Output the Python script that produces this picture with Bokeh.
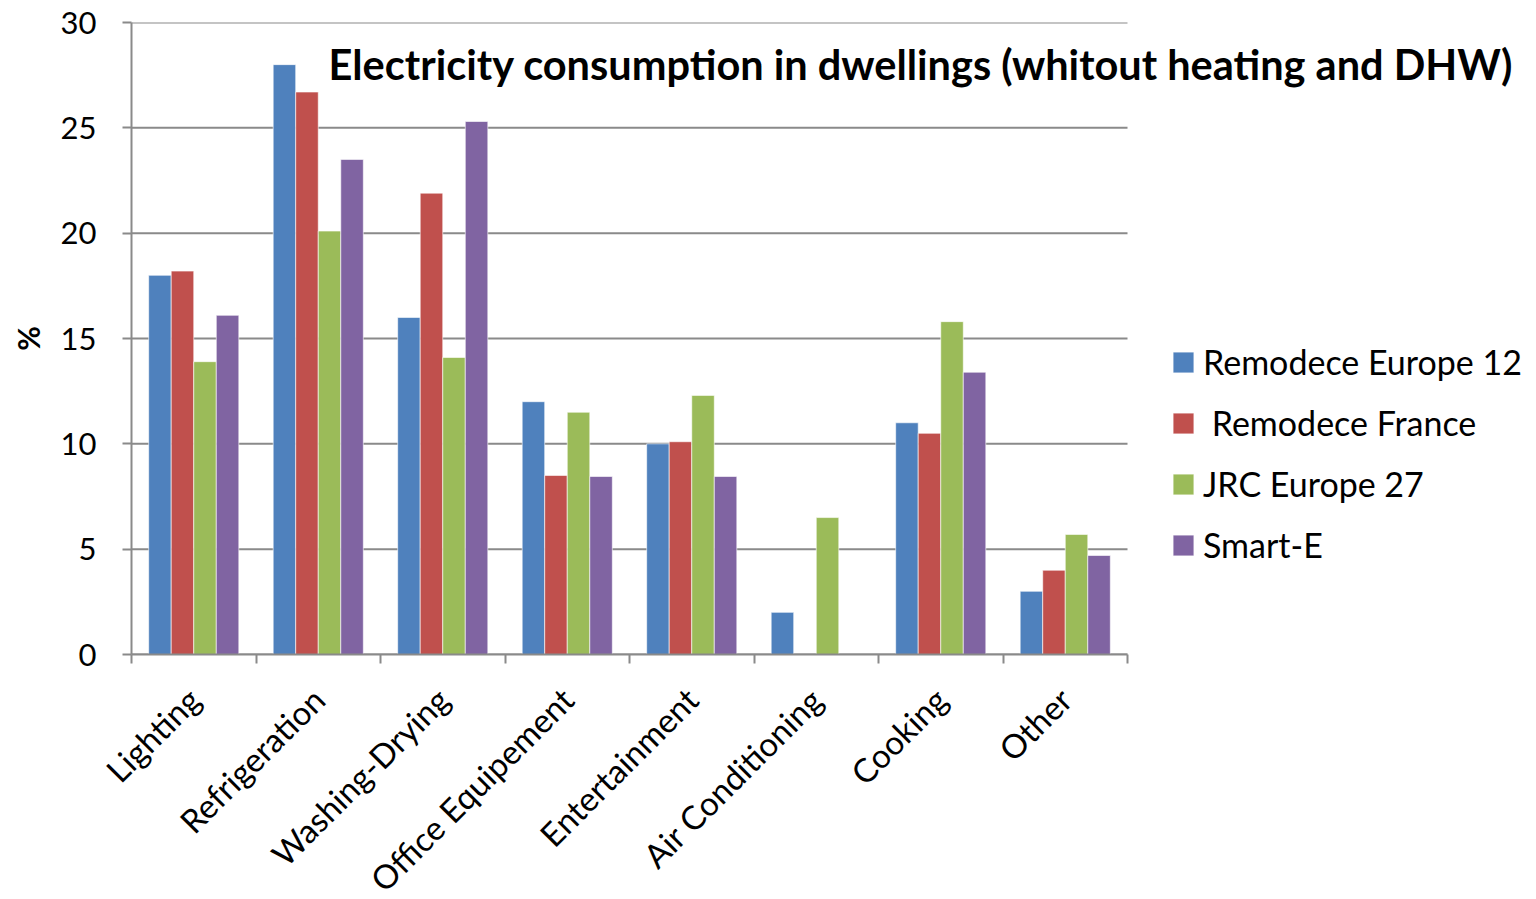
import math
from bokeh.plotting import figure
from bokeh.models import (ColumnDataSource, Range1d, LinearAxis, FixedTicker,
                          Legend, LegendItem, Label)
from bokeh.embed import file_html
from bokeh.resources import INLINE

# End uses and their share of household electricity (%)
categories = ["Lighting", "Refrigeration", "Washing-Drying", "Office Equipement",
              "Entertainment", "Air Conditioning", "Cooking", "Other"]
nan = float("nan")
remodece_europe_12 = [18.0, 28.0, 16.0, 12.0, 10.0, 2.0, 11.0, 3.0]
remodece_france = [18.2, 26.7, 21.9, 8.5, 10.1, nan, 10.5, 4.0]
jrc_europe_27 = [13.9, 20.1, 14.1, 11.5, 12.3, 6.5, 15.8, 5.7]
smart_e = [16.1, 23.5, 25.3, 8.45, 8.45, nan, 13.4, 4.7]

series_names = ["Remodece Europe 12", " Remodece France", "JRC Europe 27", "Smart-E"]
series_values = [remodece_europe_12, remodece_france, jrc_europe_27, smart_e]
series_colors = ["#4F81BD", "#C0504D", "#9BBB59", "#8064A2"]
y_ticks = [0, 5, 10, 15, 20, 25, 30]

FONT = "Lato"
GRID = "#8a8a8a"

W, H = 1536, 899
LEFT, TOP, BOTTOM = 131, 22, 245
CAT_PX = 124.5                       # width of one category slot in pixels
n = len(categories)
FRAME_W, FRAME_H = W - LEFT, H - TOP - BOTTOM
# the frame runs to the right edge so the title and legend can sit there;
# bars, grid and axis only cover the category slots
x_end = FRAME_W / CAT_PX

p = figure(frame_width=FRAME_W, frame_height=FRAME_H,
           output_backend="svg", toolbar_location=None,
           x_range=Range1d(0, x_end), y_range=Range1d(0, 30),
           x_axis_type=None, y_axis_type=None,
           min_border_left=LEFT, min_border_right=0,
           min_border_top=TOP, min_border_bottom=BOTTOM)
p.outline_line_color = None
p.background_fill_color = "white"
p.border_fill_color = "white"
p.xgrid.visible = False
p.ygrid.visible = False

# horizontal gridlines across the category slots only
p.segment(x0=[0] * len(y_ticks), x1=[n] * len(y_ticks), y0=y_ticks, y1=y_ticks,
          line_color=GRID, line_width=2, level="underlay")

# Category axis: ticks on the category boundaries, labels at the centres
centres = [i + 0.5 for i in range(n)]
xaxis = LinearAxis(ticker=FixedTicker(ticks=centres, minor_ticks=list(range(n + 1))),
                   bounds=(0, n))
xaxis.major_label_overrides = {c: name for c, name in zip(centres, categories)}
xaxis.major_label_orientation = math.pi / 4
xaxis.major_tick_line_color = None
xaxis.minor_tick_line_color = GRID
xaxis.minor_tick_line_width = 2
xaxis.minor_tick_out = 9
xaxis.minor_tick_in = 0
xaxis.axis_line_color = GRID
xaxis.axis_line_width = 2
xaxis.major_label_text_font = FONT
xaxis.major_label_text_font_size = "33px"
xaxis.major_label_text_color = "black"
xaxis.major_label_standoff = 30
p.add_layout(xaxis, "below")

yaxis = LinearAxis(ticker=FixedTicker(ticks=y_ticks, minor_ticks=[]))
yaxis.axis_label = "%"
yaxis.axis_label_text_font = FONT
yaxis.axis_label_text_font_style = "bold"
yaxis.axis_label_text_font_size = "30px"
yaxis.axis_label_text_color = "black"
yaxis.axis_label_standoff = 12
yaxis.major_tick_line_color = GRID
yaxis.major_tick_line_width = 2
yaxis.major_tick_out = 9
yaxis.major_tick_in = 0
yaxis.axis_line_color = GRID
yaxis.axis_line_width = 2
yaxis.major_label_text_font = FONT
yaxis.major_label_text_font_size = "31px"
yaxis.major_label_text_color = "black"
yaxis.major_label_standoff = 26
p.add_layout(yaxis, "left")

# Clustered bars: four series side by side within each category
bar_w = 0.181
items = []
for j, (name, vals, col) in enumerate(zip(series_names, series_values, series_colors)):
    offset = (j - 1.5) * bar_w
    src = ColumnDataSource(dict(x=[i + 0.5 + offset for i in range(n)],
                                top=vals, cat=categories))
    r = p.vbar(x="x", top="top", bottom=0, width=bar_w, source=src,
               fill_color=col, line_color="white", line_alpha=0.6, line_width=1)
    items.append(LegendItem(label=name, renderers=[r]))

legend = Legend(items=items, location=(1039, 89))
legend.label_text_font = FONT
legend.label_text_font_size = "34px"
legend.label_text_color = "black"
legend.glyph_width = 26
legend.glyph_height = 26
legend.label_height = 36
legend.spacing = 20
legend.padding = 0
legend.margin = 0
legend.label_standoff = 7
legend.border_line_color = None
legend.background_fill_alpha = 0
p.add_layout(legend, "center")

title = Label(x=197, y=591, x_units="screen", y_units="screen",
              text="Electricity consumption in dwellings (whitout heating and DHW)",
              text_font=FONT, text_font_style="bold", text_font_size="41.5px",
              text_color="black", text_baseline="alphabetic", text_align="left")
p.add_layout(title)

open("out.html", "w").write(file_html(p, INLINE))
